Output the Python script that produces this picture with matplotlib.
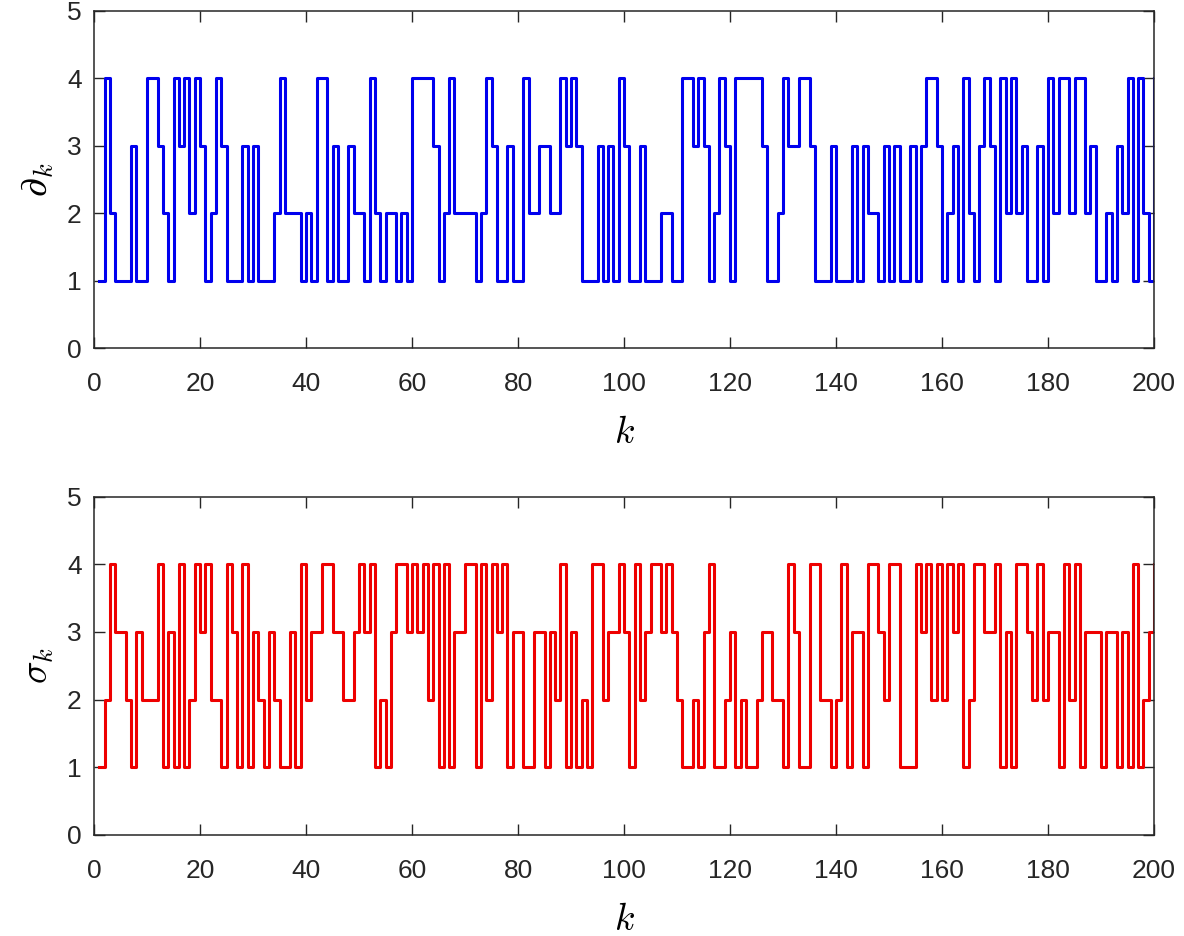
import numpy as np
import matplotlib
matplotlib.use("Agg")
import matplotlib.pyplot as plt

plt.rcParams['font.family'] = ['Liberation Sans', 'DejaVu Sans']
plt.rcParams['mathtext.fontset'] = 'cm'

k = np.arange(1, 201)

# partial_k (top panel)
partial = [
    1, 4, 2, 1, 1, 1, 3, 1, 1, 4, 4, 3, 2, 1, 4, 3, 4, 2, 4, 3,
    1, 2, 4, 3, 1, 1, 1, 3, 1, 3, 1, 1, 1, 2, 4, 2, 2, 2, 1, 2,
    1, 4, 4, 1, 3, 1, 1, 3, 2, 2, 1, 4, 2, 1, 2, 2, 1, 2, 1, 4,
    4, 4, 4, 3, 1, 2, 4, 2, 2, 2, 2, 1, 2, 4, 3, 1, 1, 3, 1, 1,
    4, 2, 2, 3, 3, 2, 2, 4, 3, 4, 3, 1, 1, 1, 3, 1, 3, 1, 4, 3,
    1, 1, 3, 1, 1, 1, 2, 2, 1, 1, 4, 4, 3, 4, 3, 1, 2, 4, 3, 1,
    4, 4, 4, 4, 4, 3, 1, 1, 2, 4, 3, 3, 4, 4, 3, 1, 1, 1, 3, 1,
    1, 1, 3, 1, 3, 2, 2, 1, 3, 1, 3, 1, 1, 3, 1, 3, 4, 4, 3, 1,
    2, 3, 1, 4, 2, 1, 3, 4, 3, 1, 4, 2, 4, 2, 3, 1, 1, 3, 1, 4,
    2, 4, 4, 2, 4, 4, 2, 3, 1, 1, 2, 1, 3, 2, 4, 1, 4, 2, 1, 4,
]

# sigma_k (bottom panel)
sigma = [
    1, 2, 4, 3, 3, 2, 1, 3, 2, 2, 2, 4, 1, 3, 1, 4, 1, 2, 4, 3,
    4, 2, 2, 1, 4, 3, 1, 4, 1, 3, 2, 1, 3, 2, 1, 1, 3, 1, 4, 2,
    3, 3, 4, 4, 3, 3, 2, 2, 3, 4, 3, 4, 1, 2, 1, 3, 4, 4, 3, 4,
    3, 4, 2, 4, 1, 4, 1, 3, 3, 4, 4, 1, 4, 2, 4, 3, 4, 1, 3, 3,
    1, 1, 3, 3, 1, 3, 2, 4, 1, 3, 1, 2, 1, 4, 4, 2, 3, 3, 4, 3,
    1, 4, 2, 3, 4, 4, 3, 4, 3, 2, 1, 1, 2, 1, 3, 4, 1, 1, 2, 3,
    1, 2, 1, 1, 2, 3, 3, 2, 2, 1, 4, 3, 1, 1, 4, 4, 2, 2, 1, 2,
    4, 1, 3, 3, 1, 4, 4, 3, 2, 4, 4, 1, 1, 1, 4, 3, 4, 2, 4, 2,
    4, 3, 4, 1, 2, 4, 4, 3, 3, 4, 1, 3, 1, 4, 4, 3, 2, 4, 2, 3,
    3, 1, 4, 2, 4, 1, 3, 3, 3, 1, 3, 3, 1, 3, 1, 4, 1, 2, 3, 4,
]

xticks = list(range(0, 201, 20))
yticks = [0, 1, 2, 3, 4, 5]

fig = plt.figure(figsize=(11.84, 9.36), dpi=100)
ax1 = fig.add_axes([0.0794, 0.628, 0.8953, 0.3605])
ax2 = fig.add_axes([0.0794, 0.108, 0.8953, 0.3615])

for ax, y, col, lab in [(ax1, partial, '#0000ee', r'$\partial_k$'),
                        (ax2, sigma, '#ee0000', r'$\sigma_k$')]:
    ax.step(k, y, where='post', color=col, lw=2.2)
    ax.set_xlim(0, 200)
    ax.set_ylim(0, 5)
    ax.set_xticks(xticks)
    ax.set_yticks(yticks)
    ax.tick_params(direction='in', length=8, width=1, top=True, right=True,
                   labelsize=19, colors='#262626')
    ax.tick_params(axis='x', pad=17)
    ax.tick_params(axis='y', pad=9)
    for s in ax.spines.values():
        s.set_color('#262626')
        s.set_linewidth(1.1)
    ax.set_xlabel(r'$k$', fontsize=27, labelpad=14)
    ax.set_ylabel(lab, fontsize=27, labelpad=8)

fig.savefig('out.png', dpi=100)
